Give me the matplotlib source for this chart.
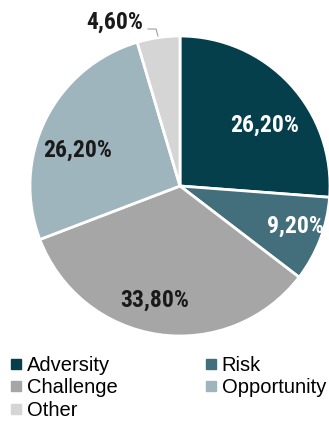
import matplotlib
matplotlib.use("Agg")
import matplotlib.pyplot as plt
from matplotlib.lines import Line2D
from matplotlib import font_manager

categories = ["Adversity", "Risk", "Challenge", "Opportunity", "Other"]
shares = [26.20, 9.20, 33.80, 26.20, 4.60]
colors = ["#063f4c", "#426f7b", "#a6a6a6", "#9fb5bd", "#d5d5d5"]
label_colors = ["white", "white", "#1a1a1a", "#1a1a1a", "#1a1a1a"]

# prefer a narrow bold face for the slice labels
names = {f.name for f in font_manager.fontManager.ttflist}
narrow = None
for cand in ["Liberation Sans Narrow", "Arial Narrow", "Roboto Condensed",
             "Open Sans Condensed", "DejaVu Sans Condensed"]:
    if cand in names:
        narrow = cand
        break
stretch_ok = any(f.name == "DejaVu Sans" and f.stretch == "condensed"
                 for f in font_manager.fontManager.ttflist)

W, H = 329, 423
fig = plt.figure(figsize=(W / 100, H / 100), dpi=100)
fig.patch.set_facecolor("white")

# pie centre (180, 186) px, radius 150 px
cx, cy, r = 180, 186, 150
ax = fig.add_axes([(cx - r) / W, (H - cy - r) / H, 2 * r / W, 2 * r / H])
ax.axis("off")

wedges, _, autotexts = ax.pie(
    shares, colors=colors, startangle=90, counterclock=False, radius=1,
    autopct=lambda p: f"{p:.2f}%".replace(".", ","),
    wedgeprops=dict(edgecolor="white", linewidth=2),
)
ax.set_xlim(-1, 1)
ax.set_ylim(-1, 1)
ax.set_aspect("equal")

# label placement in pixel coordinates of the figure
label_px = [(265, 125), (295, 226), (155, 300), (78, 150), (115, 22)]
for t, (px, py), c in zip(autotexts, label_px, label_colors):
    t.set_position(((px - cx) / r, (cy - py) / r))
    t.set_color(c)
    t.set_fontweight("bold")
    if narrow:
        t.set_family([narrow, "Liberation Sans"])
        t.set_fontsize(17)
    elif stretch_ok:
        t.set_family("DejaVu Sans")
        t.set_fontstretch("condensed")
        t.set_fontsize(15)
    else:
        t.set_family("Liberation Sans")
        t.set_fontsize(14.5)
    t.set_ha("center")
    t.set_va("center")
    t.set_clip_on(False)

# leader line for the small slice
lx = [(148 - cx) / r, (156 - cx) / r, (158 - cx) / r]
ly = [(cy - 29) / r, (cy - 29) / r, (cy - 36) / r]
ax.add_line(Line2D(lx, ly, color="#a0a0a0", linewidth=0.8, clip_on=False))

handles = [Line2D([], [], marker="s", linestyle="none", markersize=7,
                  markerfacecolor=c, markeredgecolor=c) for c in colors]
order = [0, 2, 4, 1, 3]
leg = fig.legend([handles[i] for i in order], [categories[i] for i in order],
                 ncol=2, loc="upper left", bbox_to_anchor=(10 / W, 1 - 356 / H),
                 frameon=False, handlelength=0.6, handletextpad=0.25,
                 columnspacing=4.3, labelspacing=0.17, borderpad=0,
                 borderaxespad=0,
                 prop=dict(family="Liberation Sans", size=14.5))

fig.savefig("out.png", dpi=100)
